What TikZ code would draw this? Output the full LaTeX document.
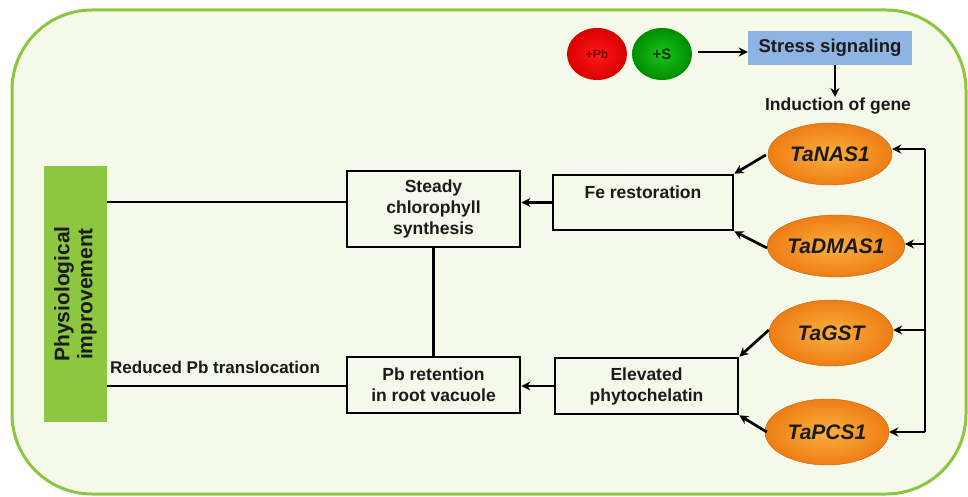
\documentclass[tikz,border=0pt]{standalone}
\usepackage{fontspec}
\setmainfont{Liberation Sans}
\usetikzlibrary{arrows.meta,shapes.geometric,calc}
\definecolor{bgc}{HTML}{F5F9E9}
\definecolor{framec}{HTML}{8CC63F}
\definecolor{physc}{HTML}{8DC63F}
\definecolor{bluec}{HTML}{8FB4E3}
\definecolor{orA}{HTML}{FBB040}
\definecolor{orB}{HTML}{EE7D14}
\definecolor{txt}{HTML}{1A1A1A}
\tikzset{
  lw/.style={line width=2.7pt},
  arr/.style={lw,-{Stealth[length=9pt,width=9pt]}},
  boxn/.style={draw,line width=2.7pt,fill=bgc,font=\bfseries\fontsize{17.5}{21}\selectfont,align=center,inner sep=0pt,text=txt},
  gene/.style={ellipse,inner sep=0pt,minimum width=124pt,minimum height=62pt,inner color=orA,outer color=orB,font=\bfseries\itshape\fontsize{21}{24}\selectfont,draw=orB!80!black,line width=0.4pt,text=txt},
}
\begin{document}
\begin{tikzpicture}[x=1pt,y=-1pt]
\useasboundingbox (0,0) rectangle (968,497);
\fill[white] (0,0) rectangle (968,497);
\draw[framec,line width=3pt,fill=bgc,rounded corners=80pt] (12,10) rectangle (966,494);
% top
\node[ellipse,minimum width=60pt,minimum height=52pt,inner sep=0pt,inner color=red!90!white,outer color=red!85!black,font=\bfseries\fontsize{12}{13}\selectfont,text=red!45!black] (pb) at (597,54) {+Pb};
\node[ellipse,minimum width=60pt,minimum height=52pt,inner sep=0pt,inner color=green!75!black!90!white,outer color=green!55!black,font=\bfseries\fontsize{15}{16}\selectfont,text=green!20!black] (s) at (662,54) {+S};
\node[fill=bluec,minimum width=164pt,minimum height=34pt,inner sep=0pt,font=\bfseries\fontsize{18.5}{20}\selectfont,text=txt] (stress) at (830,48) {Stress signaling};
\coordinate (sa) at (698,52);
\draw[arr] (sa) -- (stress.west |- sa);
\node[font=\bfseries\fontsize{17.5}{20}\selectfont,text=txt] (ind) at (838,106) {Induction of gene};
\coordinate (inda) at (835,97);
\draw[arr] (stress.south -| inda) -- (inda);
% genes
\node[gene] (nas) at (830,154) {TaNAS1};
\node[gene] (dmas) at (836,246) {TaDMAS1};
\node[gene,minimum height=66pt] (gst) at (831,333) {TaGST};
\node[gene,minimum height=66pt] (pcs) at (827,432) {TaPCS1};
\coordinate (vt) at (925,149);
\coordinate (vb) at (925,432);
\draw[lw] (vt) -- (vb);
\draw[arr] (vt) -- (nas.east |- vt);
\draw[arr] (925,244) -- (dmas.east |- 0,244);
\draw[arr] (925,330) -- (gst.east |- 0,330);
\draw[arr] (vb) -- (pcs.east);
% boxes
\node[boxn,minimum width=180pt,minimum height=55pt] (fe) at (643,202.5) {};
\node[font=\bfseries\fontsize{17.5}{21}\selectfont,text=txt] (fet) at (643,192) {Fe restoration};
\node[boxn,minimum width=173pt,minimum height=76pt] (steady) at (433.5,209) {Steady\\chlorophyll\\synthesis};
\node[boxn,minimum width=173pt,minimum height=56pt] (pbr) at (433.5,385) {Pb retention\\in root vacuole};
\node[boxn,minimum width=183pt,minimum height=56pt] (elev) at (646.5,386) {Elevated\\phytochelatin};
\node[fill=physc,minimum width=63pt,minimum height=256pt,inner sep=0pt] (phys) at (75.5,294) {};
\node[rotate=90,font=\bfseries\fontsize{21}{23}\selectfont,align=center,text=txt] (physt) at (75.5,294) {Physiological\\improvement};
\node[font=\bfseries\fontsize{17}{20}\selectfont,anchor=west,inner sep=0pt,text=txt] (red) at (110,367) {Reduced Pb translocation};
% connectors
\draw[arr] (nas.west |- 0,155) ++(-2,0) -- (fe.north east);
\draw[arr] (dmas.west |- 0,248) -- (fe.south east);
\draw[arr] (gst.west |- 0,330) -- (elev.north east);
\draw[arr] (pcs.west |- 0,432) ++(2,0) -- (elev.south east);
\draw[arr] (fe.west) -- (steady.east |- fe.west);
\draw[arr] (elev.west) -- (pbr.east |- elev.west);
\draw[lw] (steady.south) -- (pbr.north);
\draw[lw] (phys.east |- 0,202) -- (steady.west |- 0,202);
\draw[lw] (phys.east |- 0,386) -- (pbr.west |- 0,386);
\end{tikzpicture}
\end{document}
